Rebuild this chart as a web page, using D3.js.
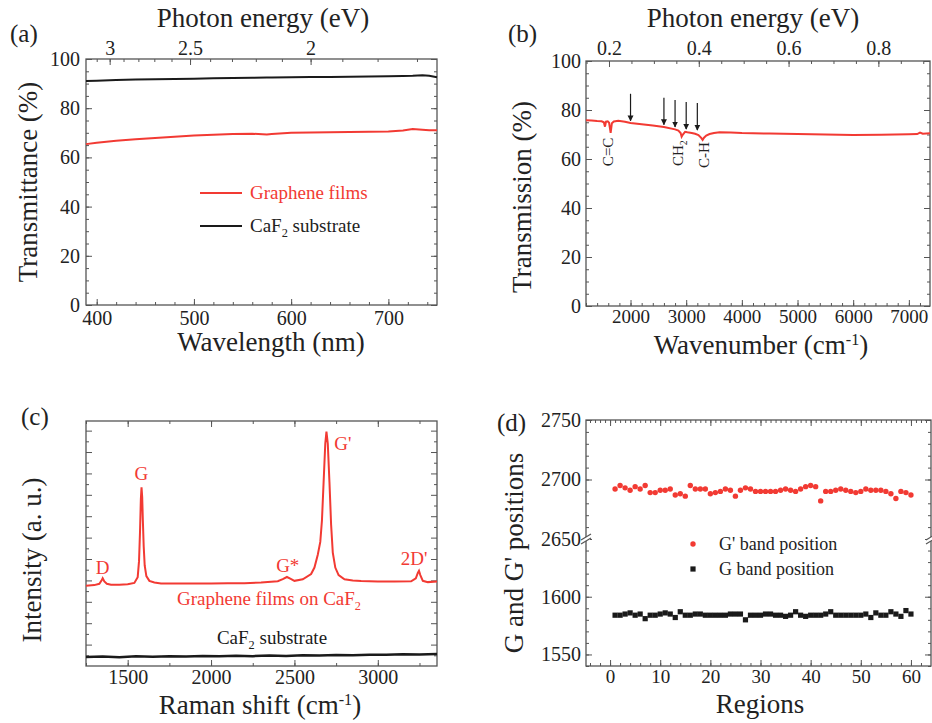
<!DOCTYPE html>
<html>
<head>
<meta charset="utf-8">
<script src="https://cdn.jsdelivr.net/npm/d3@7"></script>
<style>
  body { margin: 0; background: #fff; }
  svg text { font-family: "Liberation Serif", Tinos, "Times New Roman", Times, "DejaVu Serif", serif !important; }
</style>
</head>
<body>
<div id="fig"></div>
<script>
// ---- data ----
// (a) UV-vis transmittance
let wavelength = [389, 400, 420, 440, 460, 480, 500, 520, 540, 560, 575, 580, 600, 620, 640, 660, 680, 700, 715, 725, 735, 742, 750];
let tGraphene = [65.4, 66.0, 66.8, 67.4, 67.9, 68.4, 68.9, 69.2, 69.5, 69.6, 69.3, 69.5, 70.0, 70.1, 70.2, 70.3, 70.4, 70.5, 70.9, 71.5, 71.2, 71.0, 71.0];
let tCaF2 = [91.1, 91.2, 91.5, 91.7, 91.8, 91.9, 92.0, 92.2, 92.3, 92.4, 92.5, 92.5, 92.6, 92.7, 92.7, 92.8, 92.9, 93.0, 93.1, 93.2, 93.4, 93.2, 92.6];
let energyTicksA = [3, 2.5, 2];

// (b) IR transmission
let wavenumber = [1200, 1300, 1400, 1480, 1520, 1541, 1560, 1590, 1615, 1643, 1665, 1700, 1780, 1900, 2000, 2200, 2400, 2600, 2800, 2860, 2900, 2918, 2940, 2980, 3020, 3100, 3160, 3220, 3270, 3295, 3320, 3360, 3420, 3500, 3600, 3800, 4000, 4500, 5000, 5500, 6000, 6500, 7000, 7150, 7200, 7250, 7380];
let transmission = [75.8, 75.7, 75.5, 75.4, 75.0, 73.2, 75.3, 75.4, 74.8, 70.7, 74.6, 75.3, 75.6, 75.2, 74.7, 74.2, 73.7, 73.1, 72.1, 71.6, 70.6, 69.1, 70.0, 71.1, 70.9, 70.6, 70.3, 69.8, 68.6, 67.8, 68.7, 69.6, 70.2, 70.6, 70.9, 70.8, 70.6, 70.4, 70.2, 70.0, 69.8, 69.9, 70.1, 70.2, 70.8, 70.3, 70.5];
let arrowPos = [2000, 2600, 2800, 3000, 3200];
let arrowTip = [75.6, 74.0, 73.1, 72.2, 71.8];
let bondLabels = [
  {text: "C=C", wn: 1595, y: 62.9},
  {text: "CH", sub: "2", wn: 2850, y: 62.4},
  {text: "C-H", wn: 3320, y: 61.6}
];
let energyTicksB = [0.2, 0.4, 0.6, 0.8];

// (c) Raman spectra
let ramanShift = [1250, 1300, 1330, 1342, 1350, 1360, 1375, 1400, 1450, 1500, 1540, 1560, 1568, 1574, 1579, 1583, 1587, 1591, 1596, 1602, 1612, 1630, 1660, 1700, 1800, 1900, 2000, 2100, 2200, 2300, 2400, 2430, 2455, 2475, 2500, 2550, 2600, 2620, 2640, 2655, 2665, 2675, 2685, 2692, 2700, 2710, 2720, 2730, 2745, 2765, 2800, 2850, 2900, 3000, 3100, 3200, 3228, 3240, 3247, 3255, 3270, 3300, 3355];
let ramanGraphene = [3.75, 3.78, 3.84, 3.98, 4.1, 3.95, 3.84, 3.8, 3.8, 3.82, 3.88, 4.15, 4.9, 6.3, 7.8, 8.35, 7.9, 6.8, 5.6, 4.7, 4.2, 3.98, 3.9, 3.86, 3.85, 3.85, 3.86, 3.87, 3.87, 3.9, 3.96, 4.06, 4.16, 4.08, 3.98, 4.05, 4.3, 4.6, 5.2, 5.8, 6.8, 8.6, 10.4, 10.95, 10.4, 8.6, 6.6, 5.3, 4.6, 4.25, 4.05, 4.0, 3.97, 3.95, 3.95, 3.96, 4.1, 4.35, 4.45, 4.25, 3.98, 3.92, 3.95];
let ramanShiftSub = [1250, 1350, 1450, 1550, 1650, 1750, 1850, 1950, 2050, 2150, 2250, 2350, 2450, 2550, 2650, 2750, 2850, 2950, 3050, 3150, 3250, 3355];
let ramanCaF2 = [0.42, 0.44, 0.41, 0.45, 0.43, 0.46, 0.44, 0.47, 0.45, 0.48, 0.46, 0.49, 0.47, 0.5, 0.49, 0.51, 0.5, 0.53, 0.52, 0.55, 0.54, 0.56];
let peakLabels = [
  {text: "D", wn: 1350, y: 4.3},
  {text: "G", wn: 1582, y: 8.7},
  {text: "G*", wn: 2460, y: 4.4},
  {text: "G'", wn: 2790, y: 10.1},
  {text: "2D'", wn: 3218, y: 4.7}
];

// (d) band positions over 60 regions
let regions = d3.range(1, 61);
let gPrimeBand = [2692, 2695, 2693, 2691, 2694, 2692, 2695, 2689, 2689, 2691, 2691, 2692, 2687, 2688, 2686, 2695, 2692, 2692, 2692, 2688,
                  2689, 2690, 2692, 2691, 2686, 2691, 2693, 2692, 2690, 2690, 2690, 2690, 2690, 2691, 2692, 2691, 2690, 2692, 2694, 2695,
                  2694, 2682, 2690, 2690, 2691, 2692, 2691, 2690, 2689, 2690, 2692, 2691, 2691, 2691, 2690, 2688, 2684, 2690, 2689, 2687];
let gBand = [1584, 1584, 1585, 1586, 1584, 1585, 1581, 1584, 1584, 1585, 1586, 1585, 1582, 1587, 1584, 1584, 1585, 1585, 1584, 1584,
             1584, 1584, 1584, 1585, 1585, 1585, 1580, 1584, 1584, 1584, 1585, 1585, 1584, 1584, 1583, 1584, 1587, 1584, 1583, 1584,
             1584, 1584, 1585, 1587, 1584, 1584, 1584, 1584, 1584, 1584, 1585, 1582, 1586, 1584, 1584, 1587, 1585, 1583, 1588, 1585];

// ---- drawing ----
const RED = "#f23a33";
const INK = "#1a1a1a";
const FRAME = "#555";
const TICKFS = 20;
const TITLEFS = 27;
const fmt = d3.format("d");

let svg = d3.select("#fig").append("svg")
  .attr("width", 932)
  .attr("height", 723);
svg.append("rect").attr("width", 932).attr("height", 723).attr("fill", "#fff");

// an axis with inward ticks
function addAxis(g, axis, tr, fs) {
  let a = g.append("g").attr("transform", tr).call(axis);
  a.select(".domain").remove();
  a.selectAll("line").attr("stroke", FRAME).attr("stroke-width", 1);
  a.selectAll("text").attr("font-size", fs || TICKFS).attr("fill", "#222");
  return a;
}

function frame(g, w, h) {
  g.append("rect").attr("width", w).attr("height", h)
    .attr("fill", "none").attr("stroke", FRAME).attr("stroke-width", 1.3);
}

function label(parent, x, y, str, opts) {
  opts = opts || {};
  let size = opts.size || TITLEFS;
  let t = parent.append("text")
    .attr("font-size", size)
    .attr("fill", opts.fill || "#222")
    .attr("text-anchor", opts.anchor || "middle");
  if (opts.rotate) t.attr("transform", `translate(${x},${y}) rotate(-90)`);
  else t.attr("x", x).attr("y", y);
  t.append("tspan").text(str);
  if (opts.sup) {
    t.append("tspan").attr("dy", -size * 0.35).attr("font-size", size * 0.6).text(opts.sup);
    t.append("tspan").attr("dy", size * 0.35).text(opts.after || "");
  }
  if (opts.sub) {
    t.append("tspan").attr("dy", size * 0.27).attr("font-size", size * 0.65).text(opts.sub);
    t.append("tspan").attr("dy", -size * 0.27).text(opts.after || "");
  }
  return t;
}

// ===== (a) =====
{
  let w = 351, h = 246;
  let g = svg.append("g").attr("transform", "translate(86,59)");
  let x = d3.scaleLinear().domain([389, 750]).range([0, w]);
  let y = d3.scaleLinear().domain([0, 100]).range([h, 0]);

  addAxis(g, d3.axisBottom(x).tickValues([400, 500, 600, 700]).tickSize(-6).tickPadding(6).tickFormat(fmt), `translate(0,${h})`);
  addAxis(g, d3.axisBottom(x).tickValues(d3.range(400, 751, 20)).tickSize(-3).tickFormat(""), `translate(0,${h})`);
  addAxis(g, d3.axisLeft(y).tickValues(d3.range(0, 101, 20)).tickSize(-6).tickPadding(6).tickFormat(fmt), "translate(0,0)");
  addAxis(g, d3.axisLeft(y).tickValues(d3.range(0, 101, 5)).tickSize(-3).tickFormat(""), "translate(0,0)");
  addAxis(g, d3.axisRight(y).tickValues(d3.range(0, 101, 20)).tickSize(-6).tickFormat(""), `translate(${w},0)`);
  addAxis(g, d3.axisRight(y).tickValues(d3.range(0, 101, 5)).tickSize(-3).tickFormat(""), `translate(${w},0)`);
  // photon energy along the top
  addAxis(g, d3.axisTop(x).tickValues(energyTicksA.map(e => 1240 / e)).tickSize(-6).tickPadding(4)
    .tickFormat(d => String(Math.round(1240 / d * 10) / 10)), "translate(0,0)");
  addAxis(g, d3.axisTop(x).tickValues(d3.range(1.7, 3.15, 0.1).map(e => 1240 / e)).tickSize(-3).tickFormat(""), "translate(0,0)");
  frame(g, w, h);

  let line = d3.line().x((d, i) => x(wavelength[i])).y(d => y(d));
  g.append("path").datum(tCaF2).attr("d", line).attr("fill", "none").attr("stroke", INK).attr("stroke-width", 2);
  g.append("path").datum(tGraphene).attr("d", line).attr("fill", "none").attr("stroke", RED).attr("stroke-width", 2);

  // legend
  g.append("line").attr("x1", 114).attr("x2", 156).attr("y1", 134).attr("y2", 134).attr("stroke", RED).attr("stroke-width", 2);
  g.append("line").attr("x1", 114).attr("x2", 156).attr("y1", 167).attr("y2", 167).attr("stroke", INK).attr("stroke-width", 2);
  label(g, 164, 140, "Graphene films", {size: 19, anchor: "start", fill: RED});
  label(g, 164, 173, "CaF", {size: 19, anchor: "start", sub: "2", after: " substrate"});

  label(svg, 271, 351, "Wavelength (nm)");
  label(svg, 263, 27, "Photon energy (eV)");
  label(svg, 37, 182, "Transmittance (%)", {rotate: true});
  label(svg, 10, 42, "(a)", {size: 25, anchor: "start"});
}

// ===== (b) =====
{
  let w = 344, h = 245;
  let g = svg.append("g").attr("transform", "translate(586,61)");
  let x = d3.scaleLinear().domain([1200, 7380]).range([0, w]);
  let y = d3.scaleLinear().domain([0, 100]).range([h, 0]);
  let perEV = 8065.5;

  addAxis(g, d3.axisBottom(x).tickValues(d3.range(2000, 7001, 1000)).tickSize(-6).tickPadding(4).tickFormat(fmt), `translate(0,${h})`, 19);
  addAxis(g, d3.axisBottom(x).tickValues(d3.range(1200, 7381, 200)).tickSize(-3).tickFormat(""), `translate(0,${h})`);
  addAxis(g, d3.axisLeft(y).tickValues(d3.range(0, 101, 20)).tickSize(-6).tickPadding(5).tickFormat(fmt), "translate(0,0)");
  addAxis(g, d3.axisLeft(y).tickValues(d3.range(0, 101, 5)).tickSize(-3).tickFormat(""), "translate(0,0)");
  addAxis(g, d3.axisRight(y).tickValues(d3.range(0, 101, 20)).tickSize(-6).tickFormat(""), `translate(${w},0)`);
  addAxis(g, d3.axisRight(y).tickValues(d3.range(0, 101, 5)).tickSize(-3).tickFormat(""), `translate(${w},0)`);
  addAxis(g, d3.axisTop(x).tickValues(energyTicksB.map(e => e * perEV)).tickSize(-6).tickPadding(6)
    .tickFormat(d => (d / perEV).toFixed(1)), "translate(0,0)");
  addAxis(g, d3.axisTop(x).tickValues(d3.range(0.15, 0.92, 0.05).map(e => e * perEV)).tickSize(-3).tickFormat(""), "translate(0,0)");
  frame(g, w, h);

  let line = d3.line().x((d, i) => x(wavenumber[i])).y(d => y(d));
  g.append("path").datum(transmission).attr("d", line).attr("fill", "none").attr("stroke", RED).attr("stroke-width", 2);

  // arrows marking absorption bands
  svg.append("defs").append("marker")
    .attr("id", "arrow").attr("viewBox", "0 0 10 10").attr("refX", 9).attr("refY", 5)
    .attr("markerWidth", 5).attr("markerHeight", 6).attr("orient", "auto")
    .append("path").attr("d", "M0,0 L10,5 L0,10 z").attr("fill", INK);
  g.selectAll(".arr").data(arrowPos).join("line")
    .attr("x1", d => x(d)).attr("x2", d => x(d))
    .attr("y1", (d, i) => y(arrowTip[i]) - 27)
    .attr("y2", (d, i) => y(arrowTip[i]))
    .attr("stroke", INK).attr("stroke-width", 1.2)
    .attr("marker-end", "url(#arrow)");

  bondLabels.forEach(b => {
    label(g, x(b.wn) + 5, y(b.y), b.text, {size: 15, rotate: true, sub: b.sub});
  });

  label(svg, 761, 354, "Wavenumber (cm", {sup: "-1", after: ")"});
  label(svg, 753, 27, "Photon energy (eV)");
  label(svg, 531, 197, "Transmission (%)", {rotate: true});
  label(svg, 508, 42, "(b)", {size: 25, anchor: "start"});
}

// ===== (c) =====
{
  let w = 351, h = 245;
  let g = svg.append("g").attr("transform", "translate(86,421)");
  let x = d3.scaleLinear().domain([1250, 3355]).range([0, w]);
  let y = d3.scaleLinear().domain([0, 11.45]).range([h, 0]);

  addAxis(g, d3.axisBottom(x).tickValues([1500, 2000, 2500, 3000]).tickSize(-6).tickPadding(4).tickFormat(fmt), `translate(0,${h})`);
  addAxis(g, d3.axisBottom(x).tickValues(d3.range(1250, 3355, 250)).tickSize(-3).tickFormat(""), `translate(0,${h})`);
  addAxis(g, d3.axisTop(x).tickValues([1500, 2000, 2500, 3000]).tickSize(-6).tickFormat(""), "translate(0,0)");
  addAxis(g, d3.axisTop(x).tickValues(d3.range(1250, 3355, 250)).tickSize(-3).tickFormat(""), "translate(0,0)");
  addAxis(g, d3.axisLeft(y).tickValues(d3.range(1, 12)).tickSize(-6).tickFormat(""), "translate(0,0)");
  addAxis(g, d3.axisLeft(y).tickValues(d3.range(0.5, 11.4, 1)).tickSize(-3).tickFormat(""), "translate(0,0)");
  addAxis(g, d3.axisRight(y).tickValues(d3.range(1, 12)).tickSize(-6).tickFormat(""), `translate(${w},0)`);
  addAxis(g, d3.axisRight(y).tickValues(d3.range(0.5, 11.4, 1)).tickSize(-3).tickFormat(""), `translate(${w},0)`);
  frame(g, w, h);

  let lineG = d3.line().x((d, i) => x(ramanShift[i])).y(d => y(d));
  let lineS = d3.line().x((d, i) => x(ramanShiftSub[i])).y(d => y(d));
  g.append("path").datum(ramanCaF2).attr("d", lineS).attr("fill", "none").attr("stroke", INK).attr("stroke-width", 2.5);
  g.append("path").datum(ramanGraphene).attr("d", lineG).attr("fill", "none").attr("stroke", RED).attr("stroke-width", 2);

  peakLabels.forEach(p => label(g, x(p.wn), y(p.y), p.text, {size: 19, fill: RED}));
  label(g, 183, 184, "Graphene films on CaF", {size: 19, fill: RED, sub: "2"});
  label(g, 186, 223, "CaF", {size: 19, fill: INK, sub: "2", after: " substrate"});

  label(svg, 260, 714, "Raman shift (cm", {sup: "-1", after: ")"});
  label(svg, 41, 560, "Intensity (a. u.)", {rotate: true});
  label(svg, 21, 425, "(c)", {size: 25, anchor: "start"});
}

// ===== (d) =====
{
  let w = 345, h = 246, brk = 119;
  let g = svg.append("g").attr("transform", "translate(586,420)");
  let x = d3.scaleLinear().domain([-4.8, 64]).range([0, w]);
  let yTop = d3.scaleLinear().domain([2650, 2750]).range([brk, 0]);
  let yBot = d3.scaleLinear().domain([1540, 1650]).range([h, brk]);

  addAxis(g, d3.axisBottom(x).tickValues(d3.range(0, 61, 10)).tickSize(-6).tickPadding(4).tickFormat(fmt), `translate(0,${h})`, 19);
  addAxis(g, d3.axisBottom(x).tickValues(d3.range(-4, 64, 2)).tickSize(-3).tickFormat(""), `translate(0,${h})`);
  addAxis(g, d3.axisTop(x).tickValues(d3.range(0, 61, 10)).tickSize(-6).tickFormat(""), "translate(0,0)");
  addAxis(g, d3.axisTop(x).tickValues(d3.range(-4, 64, 1)).tickSize(-3).tickFormat(""), "translate(0,0)");
  [[yTop, [2650, 2700, 2750], d3.range(2660, 2750, 10)], [yBot, [1550, 1600], d3.range(1540, 1650, 10)]].forEach(([ys, maj, mnr]) => {
    addAxis(g, d3.axisLeft(ys).tickValues(maj).tickSize(-6).tickPadding(5).tickFormat(fmt), "translate(0,0)");
    addAxis(g, d3.axisLeft(ys).tickValues(mnr).tickSize(-3).tickFormat(""), "translate(0,0)");
    addAxis(g, d3.axisRight(ys).tickValues(maj).tickSize(-6).tickFormat(""), `translate(${w},0)`);
    addAxis(g, d3.axisRight(ys).tickValues(mnr).tickSize(-3).tickFormat(""), `translate(${w},0)`);
  });
  frame(g, w, h);

  // axis break marks
  [0, w].forEach(bx => {
    g.append("rect").attr("x", bx - 4).attr("y", brk - 2).attr("width", 8).attr("height", 4).attr("fill", "#fff");
    [-2, 2].forEach(o => g.append("line")
      .attr("x1", bx - 5).attr("x2", bx + 5).attr("y1", brk + o + 3).attr("y2", brk + o - 3)
      .attr("stroke", FRAME).attr("stroke-width", 1.2));
  });

  g.selectAll(".gp").data(gPrimeBand).join("circle")
    .attr("cx", (d, i) => x(regions[i])).attr("cy", d => yTop(d))
    .attr("r", 2.7).attr("fill", RED);
  g.selectAll(".gb").data(gBand).join("rect")
    .attr("x", (d, i) => x(regions[i]) - 2.6).attr("y", d => yBot(d) - 2.6)
    .attr("width", 5.2).attr("height", 5.2).attr("fill", INK);

  // legend
  g.append("circle").attr("cx", 107).attr("cy", 124).attr("r", 2.7).attr("fill", RED);
  g.append("rect").attr("x", 104.4).attr("y", 146.4).attr("width", 5.2).attr("height", 5.2).attr("fill", INK);
  label(g, 133, 130, "G' band position", {size: 18, anchor: "start"});
  label(g, 133, 155, "G band position", {size: 18, anchor: "start"});

  label(svg, 760, 713, "Regions");
  label(svg, 523, 553, "G and G' positions", {rotate: true});
  label(svg, 497, 431, "(d)", {size: 25, anchor: "start"});
}
</script>
</body>
</html>
